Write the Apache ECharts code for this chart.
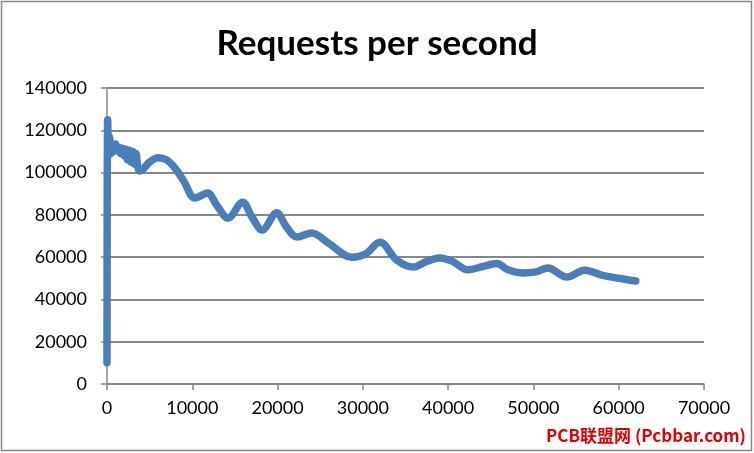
<!DOCTYPE html>
<html><head><meta charset="utf-8">
<script src="https://cdn.jsdelivr.net/npm/echarts@6/dist/echarts.min.js"></script>
<style>html,body{margin:0;padding:0;background:#fff}#c{width:754px;height:453px}</style>
</head><body><div id="c"></div>
<script>
const titleText = 'Requests per second';
const xTicks = [0, 10000, 20000, 30000, 40000, 50000, 60000, 70000];
const yTicks = [0, 20000, 40000, 60000, 80000, 100000, 120000, 140000];
const connections = [0, 80, 200, 300, 450, 600, 800, 1000, 1200, 1400, 1600, 1800, 2000, 2200, 2400, 2600, 2800, 3000, 3200, 3400, 3600, 3800, 4200, 5000, 6000, 7000, 8000, 9000, 10300, 11800, 12800, 14200, 15900, 17000, 18200, 19900, 21000, 22300, 24000, 26000, 28700, 30300, 32000, 34000, 35900, 37500, 39000, 40500, 42300, 44000, 45700, 47000, 48800, 50300, 51700, 53900, 56000, 58000, 60000, 62000];
const requests = [10000, 125000, 108000, 117000, 109000, 113000, 110000, 113500, 111000, 112000, 109000, 111500, 108000, 111000, 106000, 110500, 105000, 110000, 104000, 109000, 103000, 100800, 101500, 105000, 107000, 106000, 102000, 96000, 88000, 90300, 85000, 78500, 86000, 79000, 72800, 81000, 74500, 69500, 71400, 66500, 60000, 61500, 67000, 58500, 55300, 58000, 59600, 58000, 54000, 55500, 57000, 54000, 52500, 53000, 54900, 50600, 53800, 51500, 50000, 48700];

const chart = echarts.init(document.getElementById('c'), null, {renderer: 'canvas'});
const font = 'Lato, "Open Sans", sans-serif';
chart.setOption({
  animation: false,
  title: {text: titleText, left: 'center', top: 21,
    textStyle: {fontFamily: font, fontSize: 35, fontWeight: 'bold', color: '#000'}},
  grid: {left: 107, right: 50, top: 88, bottom: 69},
  xAxis: {type: 'value', min: xTicks[0], max: xTicks[xTicks.length - 1], interval: 10000,
    axisLine: {show: true, lineStyle: {color: '#888', width: 1.5}},
    axisTick: {show: true, length: 6, lineStyle: {color: '#888', width: 1.5}},
    splitLine: {show: false},
    axisLabel: {margin: 15, fontFamily: font, fontSize: 18, color: '#000', formatter: v => String(v)}},
  yAxis: {type: 'value', min: yTicks[0], max: yTicks[yTicks.length - 1], interval: 20000,
    axisLine: {show: true, lineStyle: {color: '#888', width: 1.5}},
    axisTick: {show: true, length: 6, lineStyle: {color: '#888', width: 1.5}},
    splitLine: {show: true, lineStyle: {color: '#888', width: 2}},
    axisLabel: {margin: 20, fontFamily: font, fontSize: 18, color: '#000', formatter: v => String(v)}},
  series: [{type: 'line', data: connections.map((x, i) => [x, requests[i]]),
    smooth: 0.35, showSymbol: false,
    lineStyle: {color: '#4a7ebb', width: 7.5, cap: 'round', join: 'round'}}],
  graphic: [
    {type: 'rect', shape: {x: 1.5, y: 1.5, width: 750, height: 449}, style: {fill: 'none', stroke: '#888', lineWidth: 1.5}, z: -1},
    {type: 'text', left: 546, top: 427, style: {text: 'PCB联盟网 (Pcbbar.com)', fill: '#e00000', font: 'bold 17px "Noto Sans CJK SC", monospace'}}
  ]
});
</script></body></html>
